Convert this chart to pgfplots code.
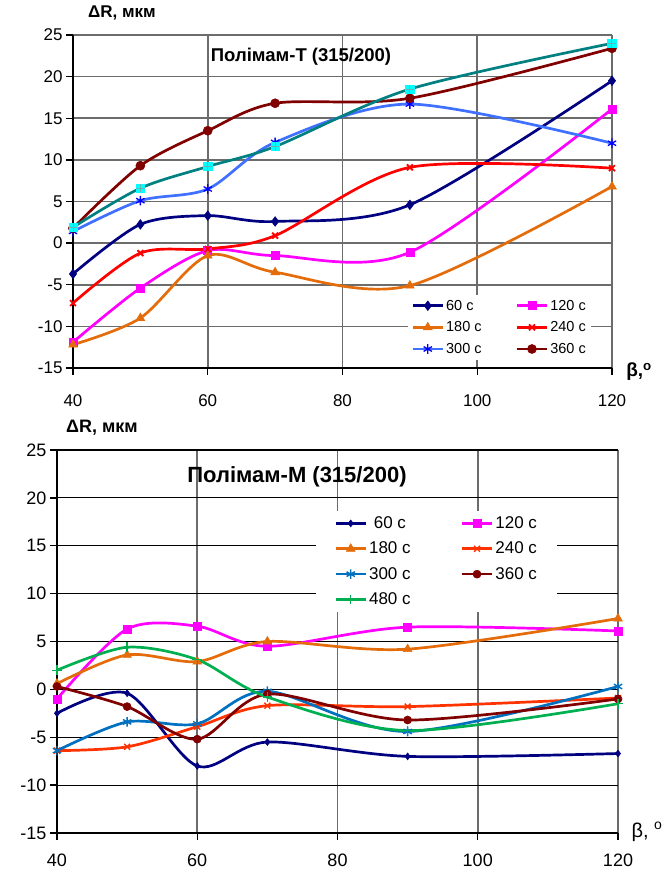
\documentclass[border=0pt]{standalone}
\usepackage{fontspec}
\setmainfont{Liberation Sans}
\usepackage{pgfplots}
\pgfplotsset{compat=1.18}
\usetikzlibrary{plotmarks}
\definecolor{cNavy}{HTML}{000080}
\definecolor{cMag}{HTML}{FF00FF}
\definecolor{cOrT}{HTML}{E46C0A}
\definecolor{cRed}{HTML}{FF0000}
\definecolor{cBlueL}{HTML}{4070FF}
\definecolor{cBlue}{HTML}{0000FF}
\definecolor{cDRed}{HTML}{800000}
\definecolor{cTeal}{HTML}{008080}
\definecolor{cCyan}{HTML}{00FFFF}
\definecolor{cOrRed}{HTML}{FF3300}
\definecolor{cBlueM}{HTML}{0070C0}
\definecolor{cGreen}{HTML}{00B050}
\pgfplotsset{
  common/.style={
    scale only axis,
    axis lines=left,
    axis line style={-, line width=2.2pt, black},
    xmin=40, xmax=120, ymin=-15, ymax=25,
    xtick={40,60,...,120}, ytick={-15,-10,...,25},
    tick align=outside, major tick length=7pt,
    tick style={line width=1.4pt, black},
    xmajorgrids, ymajorgrids,
    /pgf/number format/assume math mode=true,
    ticklabel style={font=\fontsize{17}{20}\selectfont},
    legend cell align=left,
    legend image code/.code={\draw[mark repeat=2,mark phase=2] plot coordinates {(0pt,0pt)(15pt,0pt)(30pt,0pt)};},
    every axis plot/.append style={line width=2.7pt, smooth, tension=0.5},
  },
}
\begin{document}
\begin{tikzpicture}
\path[use as bounding box] (0,0) rectangle (670pt,877pt);
% ---------------- top axis ----------------
\begin{axis}[common,
  at={(73pt,509pt)}, anchor=south west,
  width=539pt, height=333pt,
  grid style={line width=1.6pt, gray!85!black},
  xticklabel style={yshift=-16pt},
  legend columns=2,
  legend style={draw=none, fill=white, at={(0.622,0.22)}, anchor=north west,
    font=\fontsize{14.5}{16}\selectfont, inner sep=3pt, row sep=6pt,
    /tikz/every even column/.append style={column sep=32pt}},
]
\addplot[color=cNavy, mark=diamond*, mark size=4.8pt, mark options={line width=0.6pt, fill=cNavy}]
  coordinates {(40,-3.7)(50,2.25)(60,3.3)(70,2.6)(90,4.6)(120,19.5)};
\addlegendentry{60 c}
\addplot[color=cMag, mark=square*, mark size=4pt, mark options={line width=0.6pt, fill=cMag}]
  coordinates {(40,-11.9)(50,-5.4)(60,-0.9)(70,-1.5)(90,-1.1)(120,16.1)};
\addlegendentry{120 c}
\addplot[color=cOrT, mark=triangle*, mark size=5pt, mark options={line width=0.6pt, fill=cOrT}]
  coordinates {(40,-12.2)(50,-9.0)(60,-1.5)(70,-3.5)(90,-5.1)(120,6.8)};
\addlegendentry{180 c}
\addplot[color=cRed, mark=x, mark size=4.2pt, mark options={line width=1.8pt}]
  coordinates {(40,-7.2)(50,-1.2)(60,-0.7)(70,0.9)(90,9.1)(120,9.0)};
\addlegendentry{240 c}
\addplot[color=cBlueL, mark=asterisk, mark size=4.8pt, mark options={line width=1.3pt, draw=cBlue}]
  coordinates {(40,1.4)(50,5.1)(60,6.5)(70,12.1)(90,16.7)(120,12.0)};
\addlegendentry{300 c}
\addplot[color=cDRed, mark=*, mark size=4.5pt, mark options={line width=0.6pt, fill=cDRed}]
  coordinates {(40,1.8)(50,9.3)(60,13.5)(70,16.8)(90,17.4)(120,23.4)};
\addlegendentry{360 c}
\addplot[color=cTeal, mark=square*, mark size=4.2pt, mark options={line width=0.6pt, draw=cCyan, fill=cCyan}, forget plot]
  coordinates {(40,1.9)(50,6.6)(60,9.2)(70,11.6)(90,18.5)(120,24.0)};
\addplot[draw=none, mark=+, mark size=4.2pt, mark options={line width=1pt, draw=cTeal!60}, forget plot]
  coordinates {(40,1.9)(50,6.6)(60,9.2)(70,11.6)(90,18.5)(120,24.0)};
\end{axis}
% ---------------- bottom axis ----------------
\begin{axis}[common,
  at={(57pt,44pt)}, anchor=south west,
  width=561pt, height=383pt,
  x grid style={line width=1.6pt, gray!85!black},
  y grid style={line width=1.2pt, black},
  xticklabel style={yshift=-10pt},
  ticklabel style={font=\fontsize{18}{21}\selectfont},
  legend columns=2,
  legend style={draw=none, fill=white, at={(0.462,0.842)}, anchor=north west,
    font=\fontsize{17}{19}\selectfont, inner xsep=18pt, inner ysep=4pt, row sep=8pt,
    /tikz/every even column/.append style={column sep=48pt}},
]
\addplot[color=cNavy, mark=diamond*, mark size=3.4pt, mark options={line width=0.6pt, fill=cNavy}]
  coordinates {(40,-2.5)(50,-0.4)(60,-8.0)(70,-5.5)(90,-7.0)(120,-6.7)};
\addlegendentry{\ 60 c}
\addplot[color=cMag, mark=square*, mark size=4pt, mark options={line width=0.6pt, fill=cMag}]
  coordinates {(40,-1.0)(50,6.3)(60,6.6)(70,4.5)(90,6.5)(120,6.1)};
\addlegendentry{120 c}
\addplot[color=cOrT, mark=triangle*, mark size=5pt, mark options={line width=0.6pt, fill=cOrT}]
  coordinates {(40,0.6)(50,3.6)(60,2.9)(70,5.0)(90,4.2)(120,7.4)};
\addlegendentry{180 c}
\addplot[color=cOrRed, mark=x, mark size=4.2pt, mark options={line width=1.4pt}]
  coordinates {(40,-6.4)(50,-6.0)(60,-3.9)(70,-1.7)(90,-1.8)(120,-0.9)};
\addlegendentry{240 c}
\addplot[color=cBlueM, mark=asterisk, mark size=4.8pt, mark options={line width=1.4pt}]
  coordinates {(40,-6.4)(50,-3.4)(60,-3.6)(70,-0.2)(90,-4.4)(120,0.3)};
\addlegendentry{300 c}
\addplot[color=cDRed, mark=*, mark size=4pt, mark options={line width=0.6pt, fill=cDRed}]
  coordinates {(40,0.3)(50,-1.8)(60,-5.2)(70,-0.5)(90,-3.2)(120,-1.0)};
\addlegendentry{360 c}
\addplot[color=cGreen, mark=+, mark size=4.8pt, mark options={line width=1.4pt}]
  coordinates {(40,2.0)(50,4.4)(60,3.1)(70,-0.8)(90,-4.3)(120,-1.5)};
\addlegendentry{480 c}
\end{axis}
% ---------------- labels ----------------
\node[font=\bfseries\fontsize{17}{20}\selectfont] at (122pt,864pt) {ΔR, мкм};
\node[font=\bfseries\fontsize{18.5}{22}\selectfont] at (301pt,820pt) {Полімам-T (315/200)};
\node[font=\bfseries\fontsize{19}{22}\selectfont] at (639pt,505pt) {β,\textsuperscript{o}};
\node[font=\bfseries\fontsize{18}{20}\selectfont] at (102pt,449pt) {ΔR, мкм};
\node[font=\bfseries\fontsize{22}{25}\selectfont] at (297pt,400pt) {Полімам-M (315/200)};
\node[font=\fontsize{20}{22}\selectfont, anchor=west] at (628pt,45pt) {β, \textsuperscript{o}};
\end{tikzpicture}
\end{document}
